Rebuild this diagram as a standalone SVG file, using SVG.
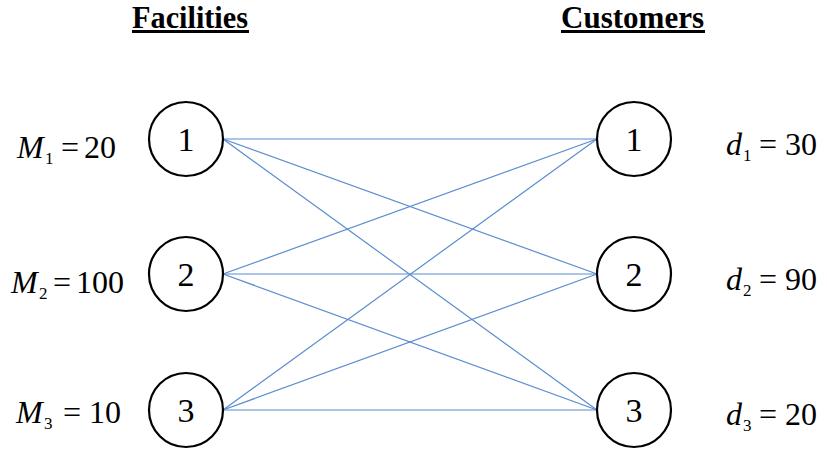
<svg xmlns="http://www.w3.org/2000/svg" width="827" height="451" viewBox="0 0 827 451">
<style>
text{font-family:"Liberation Serif","Times New Roman",serif;fill:#000}
.node circle{fill:#fff;stroke:#000;stroke-width:2.2}
.node text{font-size:34px;text-anchor:middle}
.lbl{font-size:32px}
.it{font-style:italic}
.sub{font-size:17px}
.hd{font-size:31px;font-weight:bold}
.edges line{stroke:#5a8ccf;stroke-width:1.2}
</style>
<rect width="827" height="451" fill="#fff"/>
<g id="headings">
<text class="hd" x="132" y="28" textLength="116" lengthAdjust="spacingAndGlyphs" font-family="Liberation Serif, serif">Facilities</text>
<rect x="132" y="30" width="117" height="3" fill="#000"/>
<text class="hd" x="561" y="28" textLength="143" lengthAdjust="spacingAndGlyphs" font-family="Liberation Serif, serif">Customers</text>
<rect x="561" y="30" width="144" height="3" fill="#000"/>
</g>
<g class="edges" id="connectors">
<line x1="223" y1="139" x2="597" y2="139"/>
<line x1="223" y1="139" x2="597" y2="274"/>
<line x1="223" y1="139" x2="597" y2="410"/>
<line x1="223" y1="274" x2="597" y2="139"/>
<line x1="223" y1="274" x2="597" y2="274"/>
<line x1="223" y1="274" x2="597" y2="410"/>
<line x1="223" y1="410" x2="597" y2="139"/>
<line x1="223" y1="410" x2="597" y2="274"/>
<line x1="223" y1="410" x2="597" y2="410"/>
</g>
<g class="node" id="facility1"><circle cx="186" cy="139" r="37"/><text x="186" y="151" font-family="Liberation Serif, serif">1</text></g>
<g class="node" id="facility2"><circle cx="186" cy="274" r="37"/><text x="186" y="286" font-family="Liberation Serif, serif">2</text></g>
<g class="node" id="facility3"><circle cx="186" cy="410" r="37"/><text x="186" y="422" font-family="Liberation Serif, serif">3</text></g>
<g class="node" id="customer1"><circle cx="634" cy="139" r="37"/><text x="634" y="151" font-family="Liberation Serif, serif">1</text></g>
<g class="node" id="customer2"><circle cx="634" cy="274" r="37"/><text x="634" y="286" font-family="Liberation Serif, serif">2</text></g>
<g class="node" id="customer3"><circle cx="634" cy="410" r="37"/><text x="634" y="422" font-family="Liberation Serif, serif">3</text></g>
<g id="supply-labels">
<text class="lbl" y="158" font-family="Liberation Serif, serif"><tspan class="it" x="17">M</tspan><tspan class="sub" x="45" y="164">1</tspan><tspan x="61" y="158">=</tspan><tspan x="84">20</tspan></text>
<text class="lbl" y="293" font-family="Liberation Serif, serif"><tspan class="it" x="11">M</tspan><tspan class="sub" x="39" y="299">2</tspan><tspan x="53" y="293">=</tspan><tspan x="76">100</tspan></text>
<text class="lbl" y="423" font-family="Liberation Serif, serif"><tspan class="it" x="16">M</tspan><tspan class="sub" x="44" y="429">3</tspan><tspan x="63" y="423">=</tspan><tspan x="89">10</tspan></text>
</g>
<g id="demand-labels">
<text class="lbl" y="155" font-family="Liberation Serif, serif"><tspan class="it" x="726">d</tspan><tspan class="sub" x="743" y="161">1</tspan><tspan x="759" y="155">=</tspan><tspan x="785">30</tspan></text>
<text class="lbl" y="290" font-family="Liberation Serif, serif"><tspan class="it" x="726">d</tspan><tspan class="sub" x="743" y="296">2</tspan><tspan x="759" y="290">=</tspan><tspan x="785">90</tspan></text>
<text class="lbl" y="425" font-family="Liberation Serif, serif"><tspan class="it" x="726">d</tspan><tspan class="sub" x="743" y="431">3</tspan><tspan x="759" y="425">=</tspan><tspan x="785">20</tspan></text>
</g>
</svg>
